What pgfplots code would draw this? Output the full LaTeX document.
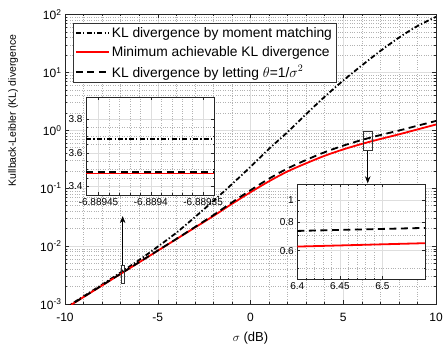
\documentclass[border=0pt]{standalone}
\usepackage{pgfplots}
\pgfplotsset{compat=1.18}
\usepackage{fontspec}
\setmainfont{Liberation Sans}
\usetikzlibrary{arrows.meta}
\newcommand{\fs}[1]{\fontsize{#1bp}{#1bp}\selectfont}
\pgfplotsset{
  mygrid/.style={
    grid=both,
    major grid style={draw=black!13, line width=0.5bp},
    minor grid style={draw=black!30, dotted, line width=0.5bp},
    axis line style={line width=0.6bp, black!85},
    every tick/.style={black!85, line width=0.5bp},
    major tick length=4bp, minor tick length=2bp,
  },
  mmstyle/.style={black, line width=1.8bp, dash pattern=on 5bp off 2.2bp on 1.3bp off 2.2bp},
  redstyle/.style={red, line width=1.8bp},
  dstyle/.style={black, line width=1.8bp, dash pattern=on 7bp off 4.5bp},
}
\begin{document}
\begin{tikzpicture}
\path[use as bounding box] (0bp,0bp) rectangle (443bp,350bp);
\begin{axis}[
  mygrid,
  at={(65bp,46bp)}, anchor=south west,
  width=371bp, height=289.5bp, scale only axis,
  xmin=-10, xmax=10, ymin=1e-3, ymax=1e2, ymode=log,
  xtick={-10,-5,0,5,10}, xticklabels={-10,-5,0,5,10},
  minor x tick num=4,
  ytick={1e-3,1e-2,1e-1,1,1e1,1e2},
  yticklabels={10\textsuperscript{-3},10\textsuperscript{-2},10\textsuperscript{-1},10\textsuperscript{0},10\textsuperscript{1},10\textsuperscript{2}},
  tick label style={font=\fs{12}},
  xticklabel style={yshift=-6bp},
  xlabel={$\sigma$ (dB)},
  xlabel style={font=\fs{13}, at={(axis description cs:0.5,-0.117)}, anchor=center},
  ylabel={Kullback-Leibler (KL) divergence},
  ylabel style={font=\fs{10.5}, at={(axis description cs:-0.140,0.668)}, anchor=center},
  legend style={at={(0.0208,0.9696)}, anchor=north west, draw=black!80, line width=0.6bp,
    font=\fs{13.8}, cells={anchor=west}, row sep=3.5bp, inner sep=2bp},
  legend image code/.code={\draw[#1] (0bp,0bp) -- (33bp,0bp);},
]
\addplot[mmstyle, smooth] coordinates {
(-10,8.51e-4) (-9,1.355e-3) (-8,2.163e-3) (-7,3.508e-3) (-6,5.754e-3) (-5,9.772e-3)
(-4,1.698e-2) (-3,3.162e-2) (-2,6.026e-2) (-1,0.1175) (0,0.2344) (1,0.4786) (2,0.9333)
(3,1.905) (4,3.802) (5,7.244) (6,13.18) (7,23.44) (8,39.81) (9,63.10) (10,91.20)};
\addlegendentry{KL divergence by moment matching}
\addplot[redstyle, smooth] coordinates {
(-10,8.32e-4) (-9,1.318e-3) (-8,2.089e-3) (-7,3.311e-3) (-6,5.248e-3) (-5,8.318e-3)
(-4,1.318e-2) (-3,2.089e-2) (-2,3.311e-2) (-1,5.370e-2) (0,8.511e-2) (1,0.1318) (2,0.1950)
(3,0.2692) (4,0.3631) (5,0.4677) (6,0.5821) (7,0.7079) (8,0.8511) (9,1.035) (10,1.259)};
\addlegendentry{Minimum achievable KL divergence}
\addplot[dstyle, smooth] coordinates {
(-10,8.38e-4) (-9,1.327e-3) (-8,2.104e-3) (-7,3.334e-3) (-6,5.285e-3) (-5,8.376e-3)
(-4,1.327e-2) (-3,2.128e-2) (-2,3.427e-2) (-1,5.687e-2) (0,9.226e-2) (1,0.1462) (2,0.2198)
(3,0.3077) (4,0.4187) (5,0.5430) (6,0.6805) (7,0.8276) (8,0.9907) (9,1.1996) (10,1.4516)};
\addlegendentry{KL divergence by letting $\theta$=1/$\sigma^2$}
\draw[black!80, line width=0.5bp] (axis cs:-6.96,2.28e-3) rectangle (axis cs:-6.82,4.72e-3);
\draw[black, line width=0.6bp, -{Stealth[length=7bp,width=5.5bp]}] (axis cs:-6.89,4.72e-3) -- (axis cs:-6.89,0.033);
\draw[black!80, line width=0.5bp] (axis cs:6.08,0.445) rectangle (axis cs:6.57,0.946);
\draw[black, line width=0.6bp, -{Stealth[length=7bp,width=5.5bp]}] (axis cs:6.32,0.445) -- (axis cs:6.32,0.1216);
\end{axis}

% inset 1
\begin{axis}[
  mygrid,
  at={(86bp,155bp)}, anchor=south west,
  width=128bp, height=98bp, scale only axis,
  axis background/.style={fill=white},
  xmin=-6.2, xmax=6.04, ymin=3.35, ymax=3.93,
  xtick={-5,0,5}, xticklabels={-6.88945,-6.8894,-6.88935},
  ytick={3.4,3.6,3.8}, yticklabels={3.4,3.6,3.8},
  minor x tick num=4, minor y tick num=3,
  major tick length=3bp, minor tick length=1.5bp,
  tick label style={font=\fs{10}},
]
\addplot[mmstyle] coordinates {(-6.2,3.68) (6.04,3.68)};
\addplot[redstyle] coordinates {(-6.2,3.477) (6.04,3.477)};
\addplot[dstyle] coordinates {(-6.2,3.488) (6.04,3.488)};
\node[anchor=south west, font=\fs{8}, inner sep=0pt] at (rel axis cs:0,1.01) {$\times$10\textsuperscript{-3}};
\end{axis}

% inset 2
\begin{axis}[
  mygrid,
  at={(297.3bp,71bp)}, anchor=south west,
  width=127.7bp, height=94.7bp, scale only axis,
  axis background/.style={fill=white},
  ymode=log,
  xmin=6.4, xmax=6.55, ymin=0.45, ymax=1.18,
  xtick={6.4,6.45,6.5}, xticklabels={6.4,6.45,6.5},
  ytick={0.6,0.8,1}, yticklabels={0.6,0.8,1},
  minor ytick={0.5,0.7,0.9},
  minor x tick num=4,
  major tick length=3bp, minor tick length=1.5bp,
  tick label style={font=\fs{10}},
]
\addplot[redstyle] coordinates {(6.4,0.626) (6.55,0.648)};
\addplot[dstyle] coordinates {(6.4,0.734) (6.55,0.757)};
\end{axis}
\end{tikzpicture}
\end{document}
